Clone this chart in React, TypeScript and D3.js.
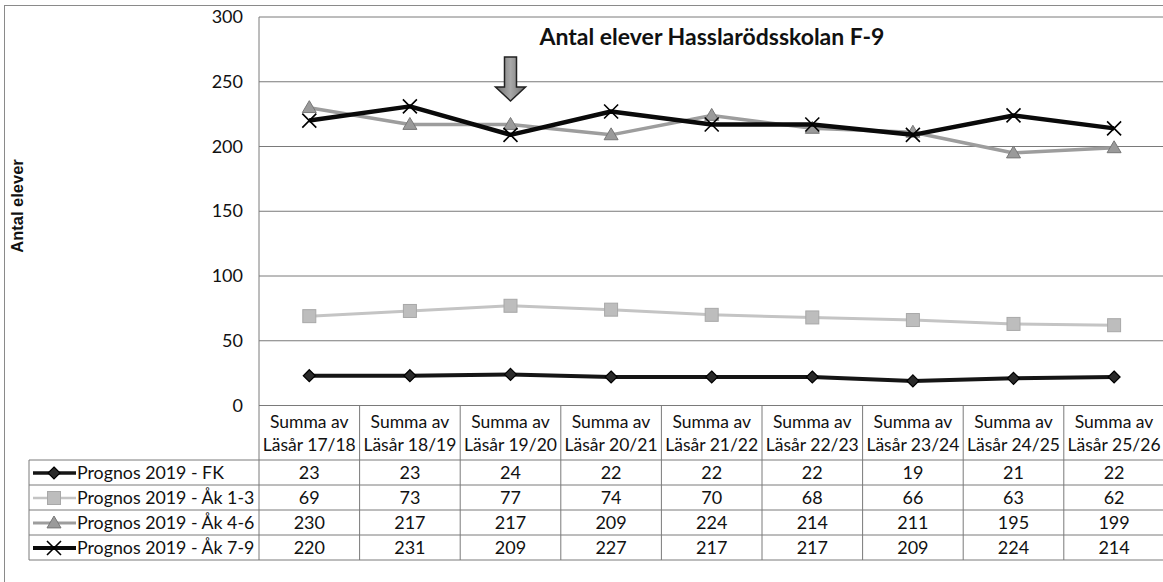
import * as d3 from "d3";

const W = 1163;
const H = 582;

const CATEGORIES = ["17/18", "18/19", "19/20", "20/21", "21/22", "22/23", "23/24", "24/25", "25/26"];
const SERIES_NAMES = ["Prognos 2019 - FK", "Prognos 2019 - Åk 1-3", "Prognos 2019 - Åk 4-6", "Prognos 2019 - Åk 7-9"];
const FK = [23, 23, 24, 22, 22, 22, 19, 21, 22];
const AK13 = [69, 73, 77, 74, 70, 68, 66, 63, 62];
const AK46 = [230, 217, 217, 209, 224, 214, 211, 195, 199];
const AK79 = [220, 231, 209, 227, 217, 217, 209, 224, 214];
const Y_TICKS = [0, 50, 100, 150, 200, 250, 300];

const FONT = "Lato, 'Open Sans', sans-serif";

const PLOT = { left: 259, top: 17, bottom: 405.5, colW: 100.6 };
const TABLE = { left: 29, headTop: 405.5, rowTop: 460, rowH: 25 };

const STYLES = [
  { stroke: "#151515", width: 4, marker: "diamond", fill: "#2a2a2a", mstroke: "#000" },
  { stroke: "#c4c4c4", width: 3, marker: "square", fill: "#bdbdbd", mstroke: "#a8a8a8" },
  { stroke: "#9d9d9d", width: 3.5, marker: "triangle", fill: "#9a9a9a", mstroke: "#777" },
  { stroke: "#0a0a0a", width: 4.5, marker: "x", fill: "none", mstroke: "#000" },
];

function Marker({ kind, x, y, s }: { kind: string; x: number; y: number; s: any }) {
  if (kind === "diamond") {
    const r = 6;
    return <path d={`M${x},${y - r}L${x + r},${y}L${x},${y + r}L${x - r},${y}Z`} fill={s.fill} stroke={s.mstroke} strokeWidth={1.2} />;
  }
  if (kind === "square") {
    const r = 6.5;
    return <rect x={x - r} y={y - r} width={2 * r} height={2 * r} fill={s.fill} stroke={s.mstroke} strokeWidth={1} />;
  }
  if (kind === "triangle") {
    const r = 7;
    return <path d={`M${x},${y - r}L${x + r},${y + r * 0.7}L${x - r},${y + r * 0.7}Z`} fill={s.fill} stroke={s.mstroke} strokeWidth={1} />;
  }
  const r = 7;
  return <path d={`M${x - r},${y - r}L${x + r},${y + r}M${x + r},${y - r}L${x - r},${y + r}`} stroke="#000" strokeWidth={1.6} fill="none" />;
}

export default function App() {
  const data = [FK, AK13, AK46, AK79];
  const x = d3
    .scaleBand<string>()
    .domain(CATEGORIES)
    .range([PLOT.left, PLOT.left + PLOT.colW * CATEGORIES.length]);
  const y = d3.scaleLinear().domain([0, 300]).range([PLOT.bottom, PLOT.top]);
  const cx = (c: string) => (x(c) ?? 0) + x.bandwidth() / 2;
  const line = d3
    .line<number>()
    .x((_, i) => cx(CATEGORIES[i]))
    .y((d) => y(d));

  const arrowX = cx("19/20");
  const rowY = (i: number) => TABLE.rowTop + i * TABLE.rowH;
  const tableBottom = rowY(SERIES_NAMES.length);

  return (
    <svg
      width={W}
      height={H}
      style={{ position: "absolute", left: 0, top: 0, background: "#fff" }}
      fontFamily={FONT}
    >
      <defs>
        <linearGradient id="arrowFill" x1="0" x2="1" y1="0" y2="0">
          <stop offset="0" stopColor="#6e6e6e" />
          <stop offset="0.5" stopColor="#a8a8a8" />
          <stop offset="1" stopColor="#6e6e6e" />
        </linearGradient>
      </defs>

      {/* chart border */}
      <rect x={4.5} y={5.5} width={W + 10} height={H + 10} fill="none" stroke="#8a8a8a" strokeWidth={1} />

      {/* gridlines */}
      {Y_TICKS.filter((t) => t > 0).map((t) => (
        <line key={t} x1={PLOT.left} x2={W} y1={y(t)} y2={y(t)} stroke="#7a7a7a" strokeWidth={1} />
      ))}
      <line x1={PLOT.left} x2={W} y1={y(0)} y2={y(0)} stroke="#7a7a7a" strokeWidth={1} />
      <line x1={PLOT.left} x2={PLOT.left} y1={PLOT.top} y2={tableBottom} stroke="#7a7a7a" strokeWidth={1} />

      {/* y tick labels */}
      {Y_TICKS.map((t) => (
        <text key={t} x={243} y={y(t) + 6} textAnchor="end" fontSize={18} fill="#111">
          {t}
        </text>
      ))}

      {/* axis title */}
      <text
        transform={`translate(23,206) rotate(-90)`}
        textAnchor="middle"
        fontSize={16.5}
        fontWeight="bold"
        fontFamily="'Liberation Sans', Arial, sans-serif"
        fill="#111"
      >
        Antal elever
      </text>

      {/* title */}
      <text x={712} y={45} textAnchor="middle" fontSize={23} fontWeight="bold" fill="#111">
        Antal elever Hasslarödsskolan F-9
      </text>

      {/* arrow */}
      <path
        d={`M${arrowX - 6},57L${arrowX + 6},57L${arrowX + 6},87L${arrowX + 15},87L${arrowX},101L${arrowX - 15},87L${arrowX - 6},87Z`}
        fill="url(#arrowFill)"
        stroke="#222"
        strokeWidth={1.5}
      />

      {/* series */}
      {data.map((vals, si) => (
        <g key={si}>
          <path d={line(vals) ?? ""} fill="none" stroke={STYLES[si].stroke} strokeWidth={STYLES[si].width} strokeLinejoin="round" />
          {vals.map((v, i) => (
            <Marker key={i} kind={STYLES[si].marker} x={cx(CATEGORIES[i])} y={y(v)} s={STYLES[si]} />
          ))}
        </g>
      ))}

      {/* data table */}
      {CATEGORIES.map((c, i) => (
        <g key={c}>
          <line x1={(x(c) ?? 0) + x.bandwidth()} x2={(x(c) ?? 0) + x.bandwidth()} y1={TABLE.headTop} y2={tableBottom} stroke="#7a7a7a" />
          <text x={cx(c)} y={428} textAnchor="middle" fontSize={17.5} fill="#111">
            Summa av
          </text>
          <text x={cx(c)} y={451} textAnchor="middle" fontSize={17.5} fill="#111">
            {`Läsår ${c}`}
          </text>
          {data.map((vals, si) => (
            <text key={si} x={cx(c)} y={rowY(si) + 19} textAnchor="middle" fontSize={18} fill="#111">
              {vals[i]}
            </text>
          ))}
        </g>
      ))}
      {[...SERIES_NAMES, ""].map((_, i) => (
        <line key={i} x1={TABLE.left} x2={W} y1={rowY(i)} y2={rowY(i)} stroke="#7a7a7a" />
      ))}
      <line x1={TABLE.left} x2={TABLE.left} y1={TABLE.rowTop} y2={tableBottom} stroke="#7a7a7a" />
      {SERIES_NAMES.map((name, si) => (
        <g key={name}>
          <line x1={33} x2={76} y1={rowY(si) + 13} y2={rowY(si) + 13} stroke={STYLES[si].stroke} strokeWidth={STYLES[si].width - 0.5} />
          <Marker kind={STYLES[si].marker} x={54} y={rowY(si) + 13} s={STYLES[si]} />
          <text x={77} y={rowY(si) + 19} fontSize={17.8} fill="#111">
            {name}
          </text>
        </g>
      ))}
    </svg>
  );
}
